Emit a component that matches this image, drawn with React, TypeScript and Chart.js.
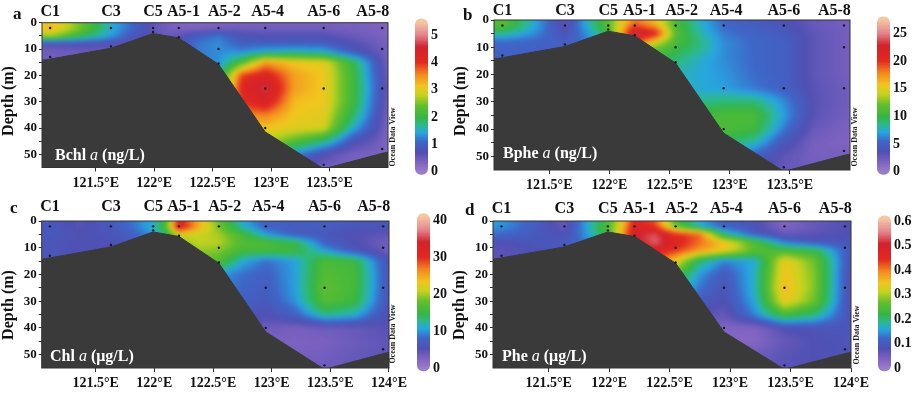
import React, { useEffect, useRef } from 'react';
import { Chart, registerables } from 'chart.js';

Chart.register(...registerables);

const FONT = "'Liberation Serif', 'Times New Roman', Times, serif";

// ---------- data ----------
const lonMin = 121.04;
const lonMax = 124.0;
const depthMax = 55;

// grid columns (longitude °E) and rows (depth m) of the gridded fields
const gridLon = [121.04, 121.11, 121.37, 121.63, 121.81, 121.99, 122.1, 122.21, 122.38, 122.55, 122.75, 122.95, 123.2, 123.45, 123.7, 124.0];
const gridDepth = [0, 2, 5, 8, 11, 15, 20, 25, 30, 35, 40, 45, 50, 55];

const bchlGrid = [
  [3.0, 3.2, 2.4, 1.5, 1.1, 0.6, 0.45, 0.33, 0.33, 0.35, 0.4, 0.4, 0.4, 0.4, 0.38, 0.33],
  [3.1, 3.3, 2.5, 1.5, 1.1, 0.6, 0.45, 0.33, 0.33, 0.38, 0.42, 0.42, 0.42, 0.42, 0.4, 0.33],
  [2.6, 2.7, 2.0, 1.4, 0.9, 0.6, 0.5, 0.6, 1.0, 1.2, 0.8, 0.7, 0.7, 0.7, 0.5, 0.35],
  [0.7, 0.7, 0.75, 0.7, 0.55, 0.5, 0.6, 0.9, 1.2, 1.3, 1.0, 1.0, 1.0, 1.0, 0.7, 0.4],
  [0.45, 0.45, 0.5, 0.5, 0.55, 0.55, 0.6, 0.9, 1.2, 1.3, 1.3, 1.5, 1.6, 1.5, 0.9, 0.4],
  [0.45, 0.45, 0.5, 0.5, 0.55, 0.55, 0.6, 0.9, 1.2, 1.3, 2.2, 3.4, 3.1, 3.0, 2.0, 0.4],
  [0.45, 0.45, 0.5, 0.5, 0.55, 0.55, 0.6, 0.9, 1.2, 1.6, 3.9, 4.3, 3.4, 3.1, 2.1, 0.45],
  [0.45, 0.45, 0.5, 0.5, 0.55, 0.55, 0.6, 0.9, 1.2, 1.8, 4.2, 4.7, 3.4, 3.1, 2.1, 0.55],
  [0.45, 0.45, 0.5, 0.5, 0.55, 0.55, 0.6, 0.9, 1.2, 1.8, 4.0, 4.4, 3.2, 3.1, 2.1, 0.45],
  [0.45, 0.45, 0.5, 0.5, 0.55, 0.55, 0.6, 0.9, 1.2, 1.8, 3.5, 3.6, 3.1, 3.0, 1.9, 0.4],
  [0.45, 0.45, 0.5, 0.5, 0.55, 0.55, 0.6, 0.9, 1.2, 1.8, 3.1, 3.1, 3.0, 2.9, 1.5, 0.35],
  [0.45, 0.45, 0.5, 0.5, 0.55, 0.55, 0.6, 0.9, 1.2, 1.8, 2.9, 2.8, 2.3, 1.8, 0.8, 0.33],
  [0.45, 0.45, 0.5, 0.5, 0.55, 0.55, 0.6, 0.9, 1.2, 1.8, 2.4, 1.8, 1.3, 0.7, 0.4, 0.33],
  [0.45, 0.45, 0.5, 0.5, 0.55, 0.55, 0.6, 0.9, 1.2, 1.8, 1.8, 1.3, 0.8, 0.45, 0.33, 0.33],
];

const bpheGrid = [
  [11, 11.5, 7.5, 3.0, 7.5, 11.5, 15, 18, 16, 11, 7.5, 5.5, 4.6, 3.8, 2.6, 2.0],
  [11, 11.5, 7.5, 3.0, 7.5, 11.5, 15.5, 19.5, 17, 11, 7.8, 5.5, 4.8, 4.0, 2.7, 2.0],
  [8.5, 8.5, 6.5, 4.0, 6.5, 10.5, 16.5, 24, 21, 11.5, 8.2, 6.0, 5.2, 4.5, 3.0, 2.0],
  [5.5, 5.5, 5.3, 4.8, 6.0, 9.0, 14, 20, 15, 11, 8.8, 6.5, 5.5, 5.0, 3.0, 2.0],
  [5.2, 5.2, 5.2, 5.2, 5.8, 8.0, 11, 14, 11.5, 10, 8.5, 6.5, 5.5, 5.0, 3.0, 2.0],
  [5.2, 5.2, 5.2, 5.2, 5.8, 8.0, 10, 12, 11, 8.8, 7.5, 6.5, 5.5, 5.0, 3.0, 2.0],
  [5.2, 5.2, 5.2, 5.2, 5.8, 8.0, 10, 12, 11, 8.0, 7.3, 6.8, 5.6, 5.0, 3.0, 2.0],
  [5.2, 5.2, 5.2, 5.2, 5.8, 8.0, 10, 12, 11, 8.0, 7.3, 7.0, 6.0, 5.0, 3.2, 2.2],
  [5.2, 5.2, 5.2, 5.2, 5.8, 8.0, 10, 12, 11, 8.0, 8.5, 9.0, 9.0, 6.5, 3.3, 2.2],
  [5.2, 5.2, 5.2, 5.2, 5.8, 8.0, 10, 12, 11, 8.5, 10.5, 11, 11, 7.0, 3.2, 2.0],
  [5.2, 5.2, 5.2, 5.2, 5.8, 8.0, 10, 12, 11, 8.5, 10.5, 11, 10.5, 6.0, 2.6, 1.7],
  [5.2, 5.2, 5.2, 5.2, 5.8, 8.0, 10, 12, 11, 8.5, 10, 9.5, 8.0, 4.2, 2.0, 1.6],
  [5.2, 5.2, 5.2, 5.2, 5.8, 8.0, 10, 12, 11, 8.5, 9, 7, 5.0, 3.0, 2.0, 2.0],
  [5.2, 5.2, 5.2, 5.2, 5.8, 8.0, 10, 12, 11, 8.5, 8, 6, 4.0, 2.8, 2.2, 2.2],
];

const chlGrid = [
  [6.5, 6.5, 5.0, 6.5, 8.5, 11, 16, 31, 24, 18, 11, 7.5, 7, 7, 6.5, 6.5],
  [6.5, 6.5, 5.0, 6.5, 8.5, 11.5, 17, 33, 25, 18.5, 11.5, 7.5, 7, 7, 6.5, 6],
  [6.5, 6.5, 5.5, 6, 7.5, 10, 14, 22, 21, 20, 16, 10.5, 7, 6.5, 5, 4.5],
  [6, 6, 5.5, 5.5, 6.5, 8.5, 12, 19, 21, 20.5, 17, 16.5, 14.5, 7.5, 5.5, 3.2],
  [6, 6, 5.5, 5.5, 6.5, 8, 11, 17, 19.5, 19, 16, 16, 15.5, 10.5, 6.5, 3.5],
  [6, 6, 5.5, 5.5, 6.5, 8, 10, 15, 18, 17, 11, 8.5, 10.5, 16.5, 15.5, 5.5],
  [6, 6, 5.5, 5.5, 6.5, 8, 10, 15, 15, 10, 8.5, 7.5, 10.5, 17, 16, 6],
  [6, 6, 5.5, 5.5, 6.5, 8, 10, 15, 15, 10, 8, 7, 10.5, 17.5, 16, 6],
  [6, 6, 5.5, 5.5, 6.5, 8, 10, 15, 15, 10, 7.5, 6.5, 10, 17, 15.5, 5.5],
  [6, 6, 5.5, 5.5, 6.5, 8, 10, 15, 15, 10, 6.5, 5.5, 7.5, 13, 11.5, 5.0],
  [6, 6, 5.5, 5.5, 6.5, 8, 10, 15, 15, 10, 5, 3.5, 3.0, 3.5, 4.0, 5.0],
  [6, 6, 5.5, 5.5, 6.5, 8, 10, 15, 15, 10, 4, 3, 2.6, 2.8, 3.6, 4.6],
  [6, 6, 5.5, 5.5, 6.5, 8, 10, 15, 15, 10, 4, 3.2, 3.0, 3.2, 4.0, 4.6],
  [6, 6, 5.5, 5.5, 6.5, 8, 10, 15, 15, 10, 4, 3.5, 3.5, 3.5, 4.0, 4.6],
];

const pheGrid = [
  [0.15, 0.15, 0.11, 0.06, 0.155, 0.24, 0.33, 0.46, 0.42, 0.25, 0.16, 0.11, 0.085, 0.035, 0.06, 0.08],
  [0.15, 0.15, 0.11, 0.06, 0.16, 0.25, 0.34, 0.48, 0.44, 0.27, 0.17, 0.11, 0.085, 0.035, 0.06, 0.08],
  [0.12, 0.12, 0.10, 0.08, 0.15, 0.24, 0.36, 0.50, 0.53, 0.45, 0.41, 0.20, 0.11, 0.06, 0.07, 0.08],
  [0.08, 0.08, 0.09, 0.10, 0.13, 0.22, 0.35, 0.49, 0.54, 0.47, 0.41, 0.35, 0.25, 0.14, 0.10, 0.09],
  [0.07, 0.07, 0.08, 0.10, 0.12, 0.20, 0.32, 0.45, 0.48, 0.44, 0.38, 0.34, 0.26, 0.24, 0.22, 0.09],
  [0.07, 0.07, 0.08, 0.10, 0.12, 0.20, 0.30, 0.40, 0.42, 0.34, 0.20, 0.14, 0.16, 0.34, 0.27, 0.08],
  [0.07, 0.07, 0.08, 0.10, 0.12, 0.20, 0.30, 0.40, 0.42, 0.25, 0.15, 0.10, 0.17, 0.35, 0.28, 0.07],
  [0.07, 0.07, 0.08, 0.10, 0.12, 0.20, 0.30, 0.40, 0.42, 0.20, 0.13, 0.09, 0.17, 0.36, 0.28, 0.07],
  [0.07, 0.07, 0.08, 0.10, 0.12, 0.20, 0.30, 0.40, 0.42, 0.18, 0.10, 0.08, 0.16, 0.34, 0.27, 0.07],
  [0.07, 0.07, 0.08, 0.10, 0.12, 0.20, 0.30, 0.40, 0.42, 0.15, 0.08, 0.06, 0.14, 0.24, 0.20, 0.08],
  [0.07, 0.07, 0.08, 0.10, 0.12, 0.20, 0.30, 0.40, 0.42, 0.15, 0.06, 0.035, 0.035, 0.08, 0.09, 0.09],
  [0.07, 0.07, 0.08, 0.10, 0.12, 0.20, 0.30, 0.40, 0.42, 0.15, 0.05, 0.03, 0.03, 0.06, 0.08, 0.09],
  [0.07, 0.07, 0.08, 0.10, 0.12, 0.20, 0.30, 0.40, 0.42, 0.15, 0.05, 0.05, 0.05, 0.07, 0.08, 0.09],
  [0.07, 0.07, 0.08, 0.10, 0.12, 0.20, 0.30, 0.40, 0.42, 0.15, 0.05, 0.06, 0.06, 0.07, 0.08, 0.09],
];

// seafloor profile
const seafloorLon = [121.04, 121.11, 121.63, 121.99, 122.21, 122.55, 122.95, 123.45, 123.97, 124.0];
const seafloorDepth = [14.3, 13.8, 9.7, 4.1, 5.8, 15.8, 41.5, 55.5, 49.4, 49.3];

// sampling points
const sampleLon = [121.11, 121.11, 121.63, 121.63, 121.99, 121.99, 122.21, 122.21, 122.55, 122.55, 122.55, 122.95, 122.95, 122.95, 123.45, 123.45, 123.45, 123.95, 123.95, 123.95, 123.95];
const sampleDepth = [2, 13, 2, 9, 2, 3.5, 2, 5.5, 2, 10, 15.5, 2, 25, 40, 2, 25, 54, 2, 10, 25, 48];

// stations
const stationNames = ['C1', 'C3', 'C5', 'A5-1', 'A5-2', 'A5-4', 'A5-6', 'A5-8'];
const stationLabelLon = [121.11, 121.63, 121.99, 122.25, 122.6, 122.97, 123.45, 123.87];

// ticks
const lonTicksTop = [121.5, 122, 122.5, 123, 123.5];
const lonTicksBottom = [121.5, 122, 122.5, 123, 123.5, 124];
const depthTicks = [0, 5, 10, 15, 20, 25, 30, 35, 40, 45, 50];
const bchlTicks = ['0', '1', '2', '3', '4', '5'];
const bpheTicks = ['0', '5', '10', '15', '20', '25'];
const chlTicks = ['0', '10', '20', '30', '40'];
const pheTicks = ['0', '0.1', '0.2', '0.3', '0.4', '0.5', '0.6'];

// variable labels
const bchlLabel = ['Bchl ', 'a', ' (ng/L)'];
const bpheLabel = ['Bphe ', 'a', ' (ng/L)'];
const chlLabel = ['Chl ', 'a', ' (μg/L)'];
const pheLabel = ['Phe ', 'a', ' (μg/L)'];

// ---------- palette (ODV-like) ----------
const paletteStops = [0, 0.06, 0.13, 0.2, 0.26, 0.31, 0.36, 0.44, 0.51, 0.57, 0.65, 0.73, 0.83, 0.91, 1];
const paletteColors = ['#9a7cc9', '#7f63c1', '#5050b3', '#3e66c8', '#27a6e0', '#2cb98c', '#35b545', '#62bf2c', '#c6d21f', '#f2c51e', '#f3861f', '#e3281f', '#d2222b', '#e5848c', '#f6c8a2'];

function hexToRgb(h) {
  return [parseInt(h.slice(1, 3), 16), parseInt(h.slice(3, 5), 16), parseInt(h.slice(5, 7), 16)];
}
const paletteRgb = paletteColors.map(hexToRgb);
const LUT = [];
for (let k = 0; k < 256; k++) {
  const f = k / 255;
  let i = 0;
  while (i < paletteStops.length - 2 && f > paletteStops[i + 1]) i++;
  const t = Math.min(1, Math.max(0, (f - paletteStops[i]) / (paletteStops[i + 1] - paletteStops[i])));
  const a = paletteRgb[i], b = paletteRgb[i + 1];
  LUT.push([
    Math.round(a[0] + (b[0] - a[0]) * t),
    Math.round(a[1] + (b[1] - a[1]) * t),
    Math.round(a[2] + (b[2] - a[2]) * t),
  ]);
}
function colorAt(f) {
  const k = Math.max(0, Math.min(255, Math.round(f * 255)));
  return LUT[k];
}

function locate(arr, v) {
  if (v <= arr[0]) return { i: 0, t: 0 };
  if (v >= arr[arr.length - 1]) return { i: arr.length - 2, t: 1 };
  let i = 0;
  while (v > arr[i + 1]) i++;
  return { i, t: (v - arr[i]) / (arr[i + 1] - arr[i]) };
}
function sampleGrid(grid, lon, dep) {
  const cx = locate(gridLon, lon);
  const cy = locate(gridDepth, dep);
  const r0 = grid[cy.i], r1 = grid[cy.i + 1];
  const a = r0[cx.i] * (1 - cx.t) + r0[cx.i + 1] * cx.t;
  const b = r1[cx.i] * (1 - cx.t) + r1[cx.i + 1] * cx.t;
  return a * (1 - cy.t) + b * cy.t;
}

// ---------- panel layout ----------
const panels = [
  {
    letter: 'a', letterPos: [13, 19], label: bchlLabel, labelPos: [55, 160], grid: bchlGrid, vmax: 5.5, cbTicks: bchlTicks,
    area: { l: 42, t: 22.7, r: 388, b: 167.5 }, cb: { x: 415, w: 13, y0: 171.7, y1: 21.6 }, xTicks: lonTicksTop,
    stationY: 15.5, depthTitle: [9, 101], odv: [392.5, 137],
  },
  {
    letter: 'b', letterPos: [463, 20], label: bpheLabel, labelPos: [503, 158], grid: bpheGrid, vmax: 27.5, cbTicks: bpheTicks,
    area: { l: 494, t: 20, r: 850, b: 170 }, cb: { x: 877, w: 13, y0: 171.7, y1: 19.5 }, xTicks: lonTicksTop,
    stationY: 15, depthTitle: [461, 101], odv: [854.5, 137],
  },
  {
    letter: 'c', letterPos: [10, 213], label: chlLabel, labelPos: [50, 361], grid: chlGrid, vmax: 41, cbTicks: chlTicks,
    area: { l: 41.7, t: 221, r: 389, b: 368 }, cb: { x: 417, w: 13, y0: 368.3, y1: 216.3 }, xTicks: lonTicksBottom,
    stationY: 211, depthTitle: [9, 305], odv: [393, 334],
  },
  {
    letter: 'd', letterPos: [465, 215], label: pheLabel, labelPos: [502, 361], grid: pheGrid, vmax: 0.61, cbTicks: pheTicks,
    area: { l: 493, t: 221, r: 851, b: 368 }, cb: { x: 878, w: 13, y0: 368.3, y1: 218.5 }, xTicks: lonTicksBottom,
    stationY: 213, depthTitle: [460, 305], odv: [857, 335],
  },
];

function makePanelPlugin(cfg) {
  return {
    id: 'panel_' + cfg.letter,
    beforeDatasetsDraw(chart) {
      const { ctx, chartArea, scales } = chart;
      const { left, top, right, bottom } = chartArea;
      const xs = scales.x, ys = scales.y;
      const pad = 6;
      const W = Math.ceil(right - left) + 2 * pad;
      const H = Math.ceil(bottom - top) + 2 * pad;
      const off = document.createElement('canvas');
      off.width = W;
      off.height = H;
      const octx = off.getContext('2d');
      const img = octx.createImageData(W, H);
      const lons = [];
      for (let i = 0; i < W; i++) lons.push(xs.getValueForPixel(left - pad + i + 0.5));
      for (let j = 0; j < H; j++) {
        const dep = ys.getValueForPixel(top - pad + j + 0.5);
        for (let i = 0; i < W; i++) {
          const v = sampleGrid(cfg.grid, lons[i], dep);
          const c = colorAt(v / cfg.vmax);
          const o = (j * W + i) * 4;
          img.data[o] = c[0];
          img.data[o + 1] = c[1];
          img.data[o + 2] = c[2];
          img.data[o + 3] = 255;
        }
      }
      octx.putImageData(img, 0, 0);
      ctx.save();
      ctx.beginPath();
      ctx.rect(left, top, right - left, bottom - top);
      ctx.clip();
      ctx.filter = 'blur(2px)';
      ctx.drawImage(off, left - pad, top - pad);
      ctx.restore();
    },
    afterDatasetsDraw(chart) {
      const { ctx, chartArea } = chart;
      ctx.save();
      ctx.strokeStyle = '#333';
      ctx.lineWidth = 1;
      ctx.strokeRect(chartArea.left, chartArea.top, chartArea.right - chartArea.left, chartArea.bottom - chartArea.top);
      ctx.restore();
    },
    afterDraw(chart) {
      const { ctx, scales } = chart;
      const xs = scales.x;
      ctx.save();
      ctx.fillStyle = '#111';
      // station labels
      ctx.font = 'bold 16px ' + FONT;
      ctx.textAlign = 'center';
      ctx.textBaseline = 'alphabetic';
      stationNames.forEach((n, i) => {
        ctx.fillText(n, xs.getPixelForValue(stationLabelLon[i]), cfg.stationY);
      });
      // panel letter
      ctx.font = 'bold 17px ' + FONT;
      ctx.textAlign = 'left';
      ctx.fillText(cfg.letter, cfg.letterPos[0], cfg.letterPos[1]);
      // depth title
      ctx.save();
      ctx.translate(cfg.depthTitle[0], cfg.depthTitle[1]);
      ctx.rotate(-Math.PI / 2);
      ctx.font = 'bold 16px ' + FONT;
      ctx.textAlign = 'center';
      ctx.textBaseline = 'middle';
      ctx.fillText('Depth (m)', 0, 0);
      ctx.restore();
      // Ocean Data View
      ctx.save();
      ctx.translate(cfg.odv[0], cfg.odv[1]);
      ctx.rotate(-Math.PI / 2);
      ctx.font = 'bold 8px ' + FONT;
      ctx.textAlign = 'center';
      ctx.textBaseline = 'middle';
      ctx.fillStyle = '#222';
      ctx.fillText('Ocean Data View', 0, 0);
      ctx.restore();
      // variable label
      ctx.fillStyle = '#ffffff';
      ctx.textAlign = 'left';
      ctx.textBaseline = 'alphabetic';
      let xx = cfg.labelPos[0];
      cfg.label.forEach((p, i) => {
        ctx.font = (i === 1 ? 'italic 16px ' : 'bold 16px ') + FONT;
        ctx.fillText(p, xx, cfg.labelPos[1]);
        xx += ctx.measureText(p).width;
      });
      // colorbar
      const cb = cfg.cb;
      ctx.save();
      ctx.beginPath();
      ctx.roundRect(cb.x, cb.y1 - 3, cb.w, cb.y0 - cb.y1 + 6, 6);
      ctx.clip();
      for (let yy = Math.floor(cb.y1 - 3); yy < Math.ceil(cb.y0 + 3); yy++) {
        const f = (cb.y0 - (yy + 0.5)) / (cb.y0 - cb.y1);
        const c = colorAt(f);
        ctx.fillStyle = `rgb(${c[0]},${c[1]},${c[2]})`;
        ctx.fillRect(cb.x, yy, cb.w, 1);
      }
      ctx.restore();
      ctx.fillStyle = '#111';
      ctx.font = 'bold 14px ' + FONT;
      ctx.textAlign = 'left';
      ctx.textBaseline = 'middle';
      cfg.cbTicks.forEach((t) => {
        const v = parseFloat(t);
        const yy = cb.y0 - (v / cfg.vmax) * (cb.y0 - cb.y1);
        ctx.fillText(t, cb.x + cb.w + 3, yy);
      });
      ctx.restore();
    },
  };
}

function buildConfig(cfg) {
  const { area } = cfg;
  const yAxisW = 40;
  const xAxisH = 24;
  const tickFont = { family: FONT, weight: 'bold' };
  return {
    type: 'line',
    data: {
      datasets: [
        {
          data: sampleLon.map((x, i) => ({ x, y: sampleDepth[i] })),
          showLine: false,
          pointRadius: 1.2,
          pointBackgroundColor: '#1a1a1a',
          pointBorderWidth: 0,
        },
        {
          data: seafloorLon.map((x, i) => ({ x, y: seafloorDepth[i] })),
          showLine: true,
          pointRadius: 0,
          borderColor: '#3a3a3a',
          borderWidth: 1,
          backgroundColor: '#3a3a3a',
          fill: { value: depthMax },
          tension: 0,
        },
      ],
    },
    options: {
      responsive: false,
      animation: false,
      devicePixelRatio: 1,
      events: [],
      layout: {
        padding: { left: area.l - yAxisW, top: area.t, right: 917 - area.r, bottom: 395 - area.b - xAxisH },
      },
      plugins: { legend: { display: false }, tooltip: { enabled: false } },
      scales: {
        x: {
          type: 'linear',
          position: 'bottom',
          min: lonMin,
          max: lonMax,
          afterBuildTicks: (s) => { s.ticks = cfg.xTicks.map((v) => ({ value: v })); },
          afterFit: (s) => { s.height = xAxisH; },
          ticks: {
            callback: (v) => `${v}°E`,
            font: { ...tickFont, size: 14 },
            color: '#111',
            padding: 3,
            maxRotation: 0,
            autoSkip: false,
          },
          grid: { drawOnChartArea: false, drawTicks: true, tickLength: 4, color: '#333' },
          border: { display: false },
        },
        y: {
          type: 'linear',
          position: 'left',
          reverse: true,
          min: 0,
          max: depthMax,
          afterBuildTicks: (s) => { s.ticks = depthTicks.map((v) => ({ value: v })); },
          afterFit: (s) => { s.width = yAxisW; },
          ticks: {
            callback: (v) => (v % 10 === 0 ? String(v) : ''),
            font: { ...tickFont, size: 13 },
            color: '#111',
            padding: 2,
            autoSkip: false,
          },
          grid: { drawOnChartArea: false, drawTicks: true, tickLength: 3, color: '#333' },
          border: { display: false },
        },
      },
    },
    plugins: [makePanelPlugin(cfg)],
  };
}

function Panel({ cfg }) {
  const ref = useRef(null);
  useEffect(() => {
    const chart = new Chart(ref.current, buildConfig(cfg));
    return () => chart.destroy();
  }, [cfg]);
  return (
    <canvas
      ref={ref}
      width={917}
      height={395}
      style={{ position: 'absolute', left: 0, top: 0, width: 917, height: 395 }}
    />
  );
}

export default function App() {
  return (
    <div style={{ position: 'absolute', left: 0, top: 0, width: 917, height: 395, background: '#fff', overflow: 'hidden' }}>
      {panels.map((p) => (
        <Panel key={p.letter} cfg={p} />
      ))}
    </div>
  );
}
